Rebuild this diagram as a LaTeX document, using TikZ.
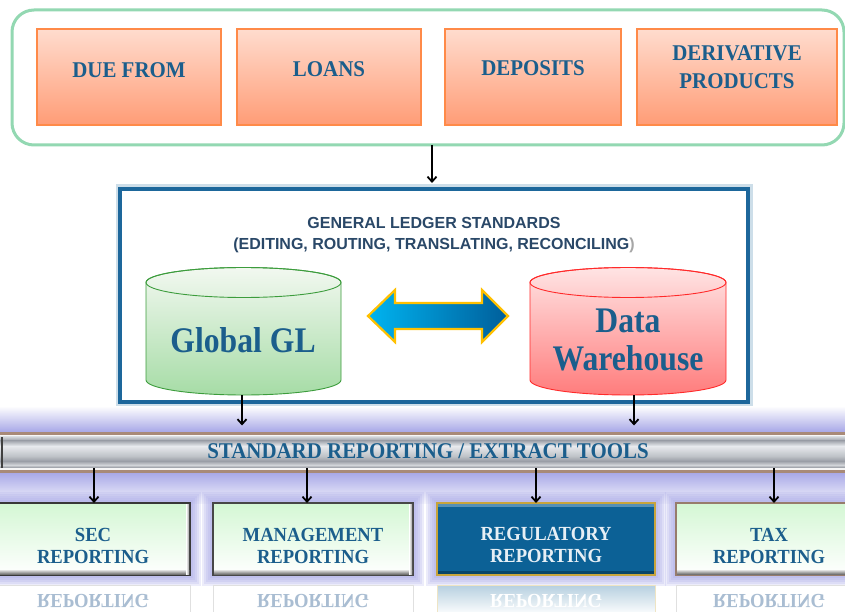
\documentclass[tikz,border=0pt]{standalone}
\usepackage{fontspec}
\usepackage{graphicx}
\setmainfont{Liberation Serif}
\newfontfamily\hsans{Liberation Sans}
\usetikzlibrary{arrows.meta}
\definecolor{tblue}{HTML}{1B5E8C}
\definecolor{hdr}{HTML}{2A4868}
\definecolor{frgreen}{HTML}{93D8B2}
\definecolor{otop}{HTML}{FFDCCE}
\definecolor{obot}{HTML}{FF9C76}
\definecolor{oline}{HTML}{FF8A48}
\definecolor{glblue}{HTML}{1D679B}
\definecolor{ggtop}{HTML}{F2F8F0}
\definecolor{ggbot}{HTML}{A6DCA6}
\definecolor{ggline}{HTML}{3C9C3C}
\definecolor{dwtop}{HTML}{FFE4E4}
\definecolor{dwbot}{HTML}{FF7C7C}
\definecolor{dwline}{HTML}{FF2A2A}
\definecolor{arrL}{HTML}{00B4F0}
\definecolor{arrR}{HTML}{005E9A}
\definecolor{gold}{HTML}{FFC000}
\definecolor{lav}{HTML}{A4A4E6}
\definecolor{brn}{HTML}{A88A78}
\definecolor{regblue}{HTML}{0C6196}
\definecolor{regline}{HTML}{C8A43C}
\definecolor{gtop}{HTML}{D4F7D4}
\definecolor{reftext}{HTML}{A9BDD2}
\definecolor{barA}{HTML}{D4D8DC}
\definecolor{barB}{HTML}{9EA2AA}
\definecolor{barC}{HTML}{E8EAEE}
\definecolor{barD}{HTML}{BFC3C8}
\definecolor{barE}{HTML}{9A9EA6}
\definecolor{barF}{HTML}{D2D5D9}
\definecolor{barG}{HTML}{8C9098}
\newcommand{\nx}[1]{\scalebox{0.93}[1]{#1}}
\newcommand{\nm}[1]{\scalebox{0.93}[-1]{#1}}
\newcommand{\fsz}[2]{\fontsize{#1}{#2}\selectfont}
\newcommand{\glowrect}[4]{\foreach \d in {11,9,7,5,3} {\fill[lav,opacity=0.2] ({#1-\d},{#2-\d}) rectangle ({#3+\d},{#4+\d});}}
\begin{document}
\begin{tikzpicture}[x=1pt,y=-1pt,
  arr/.style={line width=1.8pt,-{Straight Barb[length=5pt,width=9pt]}},
  obox/.style={top color=otop,bottom color=obot,draw=oline,line width=1.2pt,inner sep=0pt,outer sep=0pt,minimum height=96pt},
  lbl/.style={font=\fsz{22.5}{28}\bfseries,text=tblue,align=center,inner sep=0pt},
  clbl/.style={font=\fsz{36}{38}\bfseries,text=tblue,align=center,inner sep=0pt},
  blbl/.style={font=\fsz{20}{22}\bfseries,text=tblue,align=center,inner sep=0pt},
  rlbl/.style={font=\fsz{20}{22}\bfseries,text=reftext,align=center,inner sep=0pt},
  gbox/.style={top color=gtop,bottom color=white,line width=1.5pt,inner sep=0pt,outer sep=0pt,minimum height=72pt},
  rbox/.style={fill=white,draw=black!12,line width=1pt,inner sep=0pt,outer sep=0pt,minimum height=30pt},
  shape box/.style={inner sep=0pt,outer sep=0pt}]
\useasboundingbox (0,0) rectangle (845,612);
\fill[white] (0,0) rectangle (845,612);

% ---------- top group ----------
\node[draw=frgreen,line width=3pt,rounded corners=22pt,minimum width=832pt,minimum height=135pt,inner sep=0pt,outer sep=0pt] (grp) at (428,77.5) {};
\node[obox,minimum width=184pt] (due) at (129,77) {};
\node[obox,minimum width=184pt] (loans) at (329,77) {};
\node[obox,minimum width=176pt] (dep) at (533,77) {};
\node[obox,minimum width=200pt] (der) at (737,77) {};
\node[lbl] (duet) at (129,70) {\nx{DUE FROM}};
\node[lbl] (loanst) at (329,69) {\nx{LOANS}};
\node[lbl] (dept) at (533,68) {\nx{DEPOSITS}};
\node[lbl] (dert) at (737,67) {\nx{DERIVATIVE}\\\nx{PRODUCTS}};

% ---------- general ledger box ----------
\node[draw=glblue,line width=3.5pt,preaction={draw=glblue!22,line width=9pt},fill=white,minimum width=628pt,minimum height=213pt,inner sep=0pt,outer sep=0pt] (gl) at (434,295.5) {};
\node[font=\hsans\fsz{16}{21}\bfseries,text=hdr,align=center,inner sep=0pt] (glt) at (434,235.5) {GENERAL LEDGER STANDARDS\\(EDITING, ROUTING, TRANSLATING, RECONCILING\textcolor{black!35}{)}};

\draw[arr,shorten >=6pt] ([xshift=4pt]grp.south) -- ([xshift=-2pt]gl.north);

% cylinders
\shade[top color=ggtop,bottom color=ggbot,draw=ggline,line width=0.9pt]
  (146,282.5) -- (146,380) arc[start angle=180,end angle=0,x radius=97.5,y radius=15]
  -- (341,282.5) arc[start angle=0,end angle=-180,x radius=97.5,y radius=15] -- cycle;
\draw[ggline,line width=0.9pt] (243.5,282.5) ellipse[x radius=97.5,y radius=15];
\node[shape box,minimum width=195pt,minimum height=128pt] (ggl) at (243.5,331) {};
\node[clbl] (gglt) at (243,340) {\scalebox{0.88}[1]{Global GL}};

\shade[top color=dwtop,bottom color=dwbot,draw=dwline,line width=0.9pt]
  (530,282.5) -- (530,380) arc[start angle=180,end angle=0,x radius=98,y radius=15]
  -- (726,282.5) arc[start angle=0,end angle=-180,x radius=98,y radius=15] -- cycle;
\draw[dwline,line width=0.9pt] (628,282.5) ellipse[x radius=98,y radius=15];
\node[shape box,minimum width=196pt,minimum height=128pt] (dw) at (628,331) {};
\node[clbl] (dwt) at (628,340) {\scalebox{0.88}[1]{Data}\\\scalebox{0.88}[1]{Warehouse}};

% double arrow
\shade[left color=arrL,right color=arrR,draw=gold,line width=2.2pt,line join=miter]
  (368,316) -- (395,290) -- (395,303) -- (482,303) -- (482,290) -- (508,316)
  -- (482,342) -- (482,329) -- (395,329) -- (395,342) -- cycle;

% ---------- lavender background + bar ----------
\shade[top color=white,bottom color=lav] (0,406) rectangle (845,433);
\shade[top color=lav,bottom color=lav!12] (0,471) rectangle (845,503);
\fill[brn] (0,431.5) rectangle (845,434.5);
\fill[white!94!gray] (0,434.5) rectangle (845,436.5);
\shade[top color=barA,bottom color=barB] (0,436.5) rectangle (845,440.5);
\shade[top color=barB,bottom color=barC] (0,440.5) rectangle (845,446);
\shade[top color=barC,bottom color=barD] (0,446) rectangle (845,456);
\shade[top color=barD,bottom color=barE] (0,456) rectangle (845,461);
\shade[top color=barE,bottom color=barF] (0,461) rectangle (845,465);
\shade[top color=barF,bottom color=barG] (0,465) rectangle (845,468);
\fill[white!92!gray] (0,468) rectangle (845,470);
\fill[brn] (0,470) rectangle (845,472.5);
\fill[black!75] (1,436.5) rectangle (3,468);
\node[shape box,minimum width=845pt,minimum height=31.5pt] (bar) at (422.5,452.25) {};
\node[lbl] (bart) at (428,451) {\nx{STANDARD REPORTING / EXTRACT TOOLS}};

\coordinate (ga) at ([xshift=-1.5pt]ggl.south);
\draw[arr,shorten >=11pt] (ga) -- (ga |- bar.north);
\coordinate (da) at ([xshift=6pt]dw.south);
\draw[arr,shorten >=11pt] (da) -- (da |- bar.north);

% ---------- glows ----------
\glowrect{-4}{503}{190}{575}
\glowrect{213}{503}{413}{575}
\glowrect{437}{503}{655}{575}
\glowrect{676}{503}{862}{575}

% ---------- reflections ----------
\node[rbox,minimum width=194pt] (secr) at (93,600) {};
\node[rbox,minimum width=200pt] (mgmtr) at (313,600) {};
\node[rbox,minimum width=218pt,top color=regblue!30,bottom color=white,draw=regline!30] (regr) at (546,600) {};
\node[rbox,minimum width=186pt] (taxr) at (769,600) {};
\node[rlbl] (secrt) at (93,601) {\nm{REPORTING}};
\node[rlbl] (mgmtrt) at (313,601) {\nm{REPORTING}};
\node[rlbl,text=white] (regrt) at (546,601) {\nm{REPORTING}};
\node[rlbl] (taxrt) at (769,601) {\nm{REPORTING}};

% ---------- report boxes ----------
\node[gbox,draw=black!78,minimum width=194pt] (sec) at (93,539) {};
\node[gbox,draw=black!72,minimum width=200pt] (mgmt) at (313,539) {};
\node[fill=regblue,draw=regline,line width=1.2pt,inner sep=0pt,outer sep=0pt,minimum height=72pt,minimum width=218pt] (reg) at (546,539) {};
\node[gbox,draw=brn!90!black,minimum width=186pt] (tax) at (769,539) {};

\foreach \b in {sec,mgmt,tax}{
  \shade[top color=black!12,bottom color=black!55] ([shift={(1,-5)}]\b.south west) rectangle ([shift={(-1,-1)}]\b.south east);
  \shade[left color=white,right color=black!38] ([shift={(-4,1)}]\b.north east) rectangle ([shift={(-1,-1)}]\b.south east);
}
\fill[regblue!70!white] ([shift={(1,1)}]reg.north west) rectangle ([shift={(-1,4)}]reg.north east);
\fill[regblue!70!black] ([shift={(1,-4)}]reg.south west) rectangle ([shift={(-1,-1)}]reg.south east);

\node[blbl] (sect) at (93,546) {\nx{SEC}\\\nx{REPORTING}};
\node[blbl] (mgmtt) at (313,546) {\nx{MANAGEMENT}\\\nx{REPORTING}};
\node[blbl,text=white!90!regblue] (regt) at (546,545) {\nx{REGULATORY}\\\nx{REPORTING}};
\node[blbl] (taxt) at (769,546) {\nx{TAX}\\\nx{REPORTING}};

% arrows from bar to boxes
\coordinate (s1) at ([xshift=1pt]sec.north);
\draw[arr] (s1 |- bar.south) -- (s1);
\coordinate (s2) at ([xshift=-6pt]mgmt.north);
\draw[arr] (s2 |- bar.south) -- (s2);
\coordinate (s3) at ([xshift=-10pt]reg.north);
\draw[arr] (s3 |- bar.south) -- (s3);
\coordinate (s4) at ([xshift=5pt]tax.north);
\draw[arr] (s4 |- bar.south) -- (s4);
\end{tikzpicture}
\end{document}
